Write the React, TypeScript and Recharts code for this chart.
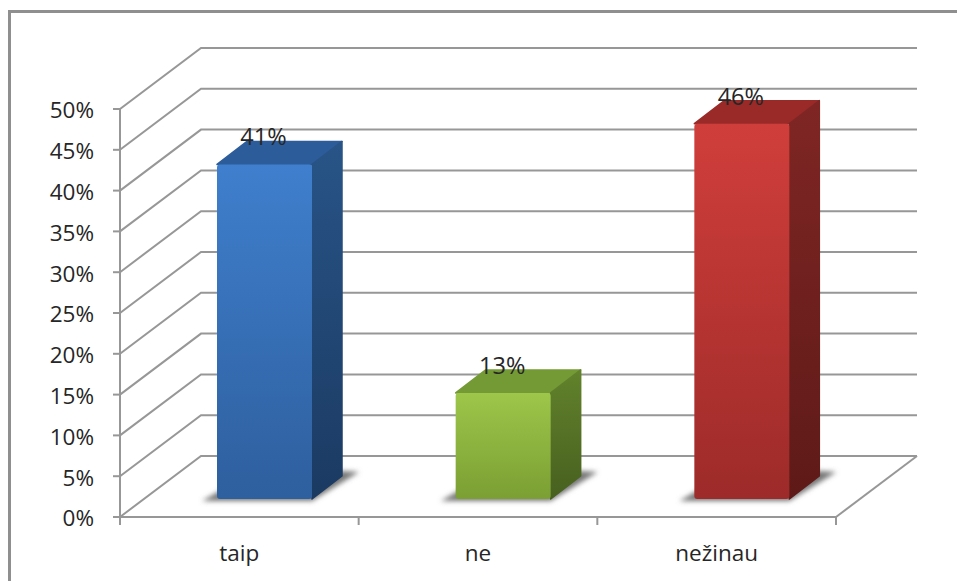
import React from "react";
import { BarChart, Bar, XAxis, YAxis, CartesianGrid, LabelList } from "recharts";

const categories = ["taip", "ne", "nežinau"];
const shares = [41, 13, 46];
const yTicks = [0, 5, 10, 15, 20, 25, 30, 35, 40, 45, 50];

const WIDTH = 957;
const HEIGHT = 581;
const X_AXIS_HEIGHT = 30;
const MARGIN = { top: 109, right: 121, bottom: 34, left: 0 };
const FONT = "'Open Sans', sans-serif";
const GRID = "#979797";
const TEXT = "#262626";

// Oblique offset of the back wall and of each column's depth
const WALL_DX = 81;
const WALL_DY = -61;
const BAR_SHIFT_X = 25;
const BAR_SHIFT_Y = -18;
const DEPTH_X = 30;
const DEPTH_Y = -23;

const palette = [
  { id: "blue", frontTop: "#3f7fcd", frontBottom: "#2e5f9e", top: "#2c5c9a", sideTop: "#285487", sideBottom: "#1b3a62" },
  { id: "green", frontTop: "#9dc64a", frontBottom: "#7b9f33", top: "#749a35", sideTop: "#62822c", sideBottom: "#47601f" },
  { id: "red", frontTop: "#d03e3b", frontBottom: "#9d2b29", top: "#992a28", sideTop: "#7f2624", sideBottom: "#5e1a18" },
];

const rows = categories.map((name, i) => ({ name, value: shares[i] }));

const gridLine = (props: any) => {
  const { x1, x2, y1, key } = props;
  const backY = y1 + WALL_DY;
  const isFloor = y1 >= HEIGHT - MARGIN.bottom - X_AXIS_HEIGHT - 0.5;
  return (
    <g key={key}>
      <polyline
        points={`${x1},${y1} ${x1 + WALL_DX},${backY} ${x2 + WALL_DX},${backY}`}
        fill="none"
        stroke={GRID}
        strokeWidth={2}
      />
      {isFloor && (
        <line x1={x2} y1={y1} x2={x2 + WALL_DX} y2={backY} stroke={GRID} strokeWidth={2} />
      )}
    </g>
  );
};

const Column = (props: any) => {
  const { x, y, width, height, index } = props;
  const c = palette[index];
  const l = x + BAR_SHIFT_X;
  const r = l + width;
  const t = y + BAR_SHIFT_Y;
  const b = t + height;
  const dx = DEPTH_X;
  const dy = DEPTH_Y;
  return (
    <g>
      <polygon
        points={`${l - 15},${b + 2} ${l + 6},${b - 10} ${r + dx},${b + dy - 5} ${r + dx + 17},${b + dy - 4} ${r},${b + 2}`}
        fill="#777777"
        filter="url(#floorShadow)"
      />
      <polygon
        points={`${l},${t} ${l + dx},${t + dy} ${r + dx},${t + dy} ${r},${t}`}
        fill={c.top}
        stroke={c.top}
        strokeWidth={1.5}
        strokeLinejoin="round"
      />
      <polygon
        points={`${r},${t} ${r + dx},${t + dy} ${r + dx},${b + dy} ${r},${b}`}
        fill={`url(#side-${c.id})`}
        stroke={`url(#side-${c.id})`}
        strokeWidth={1.5}
        strokeLinejoin="round"
      />
      <rect x={l} y={t} width={width} height={height} rx={3} fill={`url(#front-${c.id})`} />
    </g>
  );
};

const CategoryTick = (props: any) => {
  const { x, y, payload, width, index } = props;
  const band = width / categories.length;
  return (
    <g>
      <line x1={x + band / 2} y1={y - 8} x2={x + band / 2} y2={y} stroke={GRID} strokeWidth={2} />
      {index === 0 && (
        <line x1={x - band / 2} y1={y - 8} x2={x - band / 2} y2={y} stroke={GRID} strokeWidth={2} />
      )}
      <text x={x} y={y + 36} textAnchor="middle" fontFamily={FONT} fontSize={22.5} fill={TEXT}>
        {payload.value}
      </text>
    </g>
  );
};

const ValueLabel = (props: any) => {
  const { x, y, width, value } = props;
  return (
    <text
      x={x + BAR_SHIFT_X + width / 2 - 1}
      y={y + BAR_SHIFT_Y - 19}
      textAnchor="middle"
      fontFamily={FONT}
      fontSize={23.5}
      fill={TEXT}
    >
      {value}%
    </text>
  );
};

export default function App() {
  return (
    <div style={{ position: "absolute", left: 0, top: 0, width: WIDTH, height: HEIGHT, overflow: "hidden", background: "#fff" }}>
      <div
        style={{
          position: "absolute",
          left: 8,
          top: 10,
          right: 0,
          bottom: 0,
          borderTop: "3px solid #8f8f8f",
          borderLeft: "3px solid #8f8f8f",
        }}
      />
      <BarChart width={WIDTH} height={HEIGHT} data={rows} margin={MARGIN} barSize={95} style={{ position: "absolute", left: 0, top: 0 }}>
        <defs>
          {palette.map((c) => (
            <linearGradient key={`front-${c.id}`} id={`front-${c.id}`} x1="0" y1="0" x2="0" y2="1">
              <stop offset="0%" stopColor={c.frontTop} />
              <stop offset="100%" stopColor={c.frontBottom} />
            </linearGradient>
          ))}
          {palette.map((c) => (
            <linearGradient key={`side-${c.id}`} id={`side-${c.id}`} x1="0" y1="0" x2="0" y2="1">
              <stop offset="0%" stopColor={c.sideTop} />
              <stop offset="100%" stopColor={c.sideBottom} />
            </linearGradient>
          ))}
          <filter id="floorShadow" x="-20%" y="-40%" width="140%" height="180%">
            <feGaussianBlur stdDeviation="2.5" />
          </filter>
        </defs>
        <CartesianGrid horizontal={gridLine} vertical={false} />
        <XAxis
          dataKey="name"
          height={X_AXIS_HEIGHT}
          axisLine={{ stroke: GRID, strokeWidth: 2 }}
          tickLine={false}
          tick={<CategoryTick />}
          interval={0}
        />
        <YAxis
          domain={[0, 50]}
          ticks={yTicks}
          width={120}
          interval={0}
          axisLine={{ stroke: GRID, strokeWidth: 2 }}
          tickLine={{ stroke: GRID, strokeWidth: 2 }}
          tickSize={7}
          tickMargin={19}
          tickFormatter={(v: number) => `${v}%`}
          tick={{ fontFamily: FONT, fontSize: 22.5, fill: TEXT, dy: 1.5 }}
        />
        <Bar dataKey="value" shape={<Column />} isAnimationActive={false}>
          <LabelList dataKey="value" content={<ValueLabel />} />
        </Bar>
      </BarChart>
    </div>
  );
}
